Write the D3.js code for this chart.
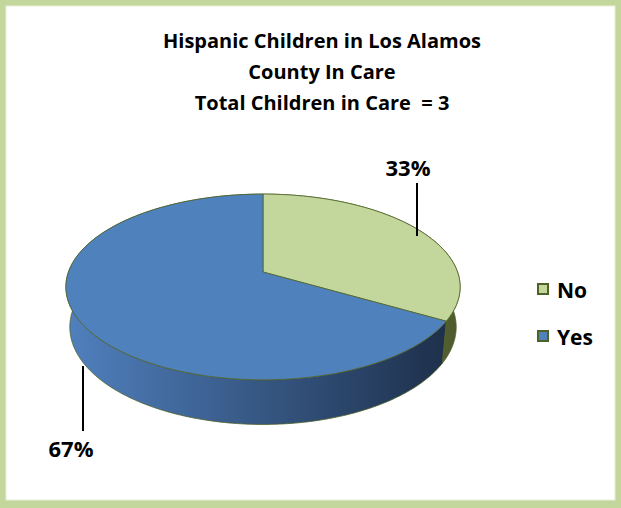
<!DOCTYPE html>
<html>
<head>
<meta charset="utf-8">
<script src="https://cdn.jsdelivr.net/npm/d3@7"></script>
<style>
  html, body { margin: 0; padding: 0; background: #fff; }
  svg { display: block; }
  text { font-family: "Open Sans", Lato, "DejaVu Sans", sans-serif; font-weight: bold; fill: #000; white-space: pre; }
</style>
</head>
<body>
<svg id="chart" width="621" height="508"></svg>
<script>
// ---- data ----
const categories = ["No", "Yes"];
const values = [1, 2];
const percentLabels = ["33%", "67%"];
const titleLines = ["Hispanic Children in Los Alamos", "County In Care", "Total Children in Care  = 3"];

// ---- palette ----
const topColors = ["#c3d69b", "#4f81bd"];
const sideLight = ["#a6b87c", "#5080be"];
const sideDark = ["#4e5a2c", "#1c2d47"];
const edgeColor = "#4f6228";

const W = 621, H = 508;
const svg = d3.select("#chart");

// frame
svg.append("rect").attr("x", 0).attr("y", 0).attr("width", W).attr("height", H).attr("fill", "#c3d69b");
svg.append("rect").attr("x", 6).attr("y", 6).attr("width", 609).attr("height", 494)
  .attr("fill", "#fff").attr("stroke", "#e8efd9").attr("stroke-width", 1);

// title
const title = svg.append("text").attr("text-anchor", "middle").style("font-size", "20px");
titleLines.forEach((t, i) => {
  title.append("tspan").attr("x", 322).attr("y", 48 + i * 31).text(t);
});

// ---- 3D perspective pie ----
const cx = 263, cy = 272;
const sinA = 0.465, cosA = Math.sqrt(1 - sinA * sinA);
const D = 5.5, f = 1070, thick = 0.235;

function proj(theta, r, depth) {
  const X = r * Math.sin(theta);
  const Z = r * Math.cos(theta);
  const yc = -Z * sinA + depth * cosA;
  const zc = D + Z * cosA + depth * sinA;
  return [cx + f * X / zc, cy + f * yc / zc];
}

const pie = d3.pie().sort(null).value(d => d)(values);

function arcPts(a0, a1, depth) {
  const n = Math.max(2, Math.ceil(Math.abs(a1 - a0) / (Math.PI / 180)));
  const pts = [];
  for (let i = 0; i <= n; i++) pts.push(proj(a0 + (a1 - a0) * i / n, 1, depth));
  return pts;
}

const defs = svg.append("defs");
pie.forEach((p, i) => {
  const g = defs.append("linearGradient").attr("id", "side" + i)
    .attr("gradientUnits", "userSpaceOnUse")
    .attr("x1", cx - 197).attr("x2", cx + 197).attr("y1", 0).attr("y2", 0);
  g.append("stop").attr("offset", "0%").attr("stop-color", sideLight[i]);
  g.append("stop").attr("offset", "100%").attr("stop-color", sideDark[i]);
});

const line = d3.line();
const pieG = svg.append("g");

// side bands
pie.forEach((p, i) => {
  const topE = arcPts(p.startAngle, p.endAngle, 0);
  const botE = arcPts(p.endAngle, p.startAngle, thick);
  pieG.append("path")
    .attr("d", line(topE.concat(botE)) + "Z")
    .attr("fill", `url(#side${i})`)
    .attr("stroke", edgeColor).attr("stroke-width", 0.8).attr("stroke-linejoin", "round");
});

// top faces
pie.forEach((p, i) => {
  const pts = [proj(0, 0, 0)].concat(arcPts(p.startAngle, p.endAngle, 0));
  pieG.append("path")
    .attr("d", line(pts) + "Z")
    .attr("fill", topColors[i])
    .attr("stroke", edgeColor).attr("stroke-width", 0.8).attr("stroke-linejoin", "round");
});

// data labels with leader lines
const labelPos = [
  { tx: 408, ty: 176, lx: 417, ly0: 183, ly1: 236 },
  { tx: 71, ty: 457, lx: 83, ly0: 366, ly1: 431 }
];
percentLabels.forEach((t, i) => {
  const L = labelPos[i];
  svg.append("line").attr("x1", L.lx).attr("x2", L.lx).attr("y1", L.ly0).attr("y2", L.ly1)
    .attr("stroke", "#000").attr("stroke-width", 2);
  svg.append("text").attr("x", L.tx).attr("y", L.ty).attr("text-anchor", "middle")
    .style("font-size", "22px").text(t);
});

// legend
const leg = svg.append("g");
categories.forEach((c, i) => {
  const y = 284 + i * 47;
  leg.append("rect").attr("x", 538).attr("y", y).attr("width", 10).attr("height", 10)
    .attr("fill", topColors[i]).attr("stroke", edgeColor).attr("stroke-width", 2);
  leg.append("text").attr("x", 557).attr("y", y + 14).style("font-size", "21px").text(c);
});
</script>
</body>
</html>
